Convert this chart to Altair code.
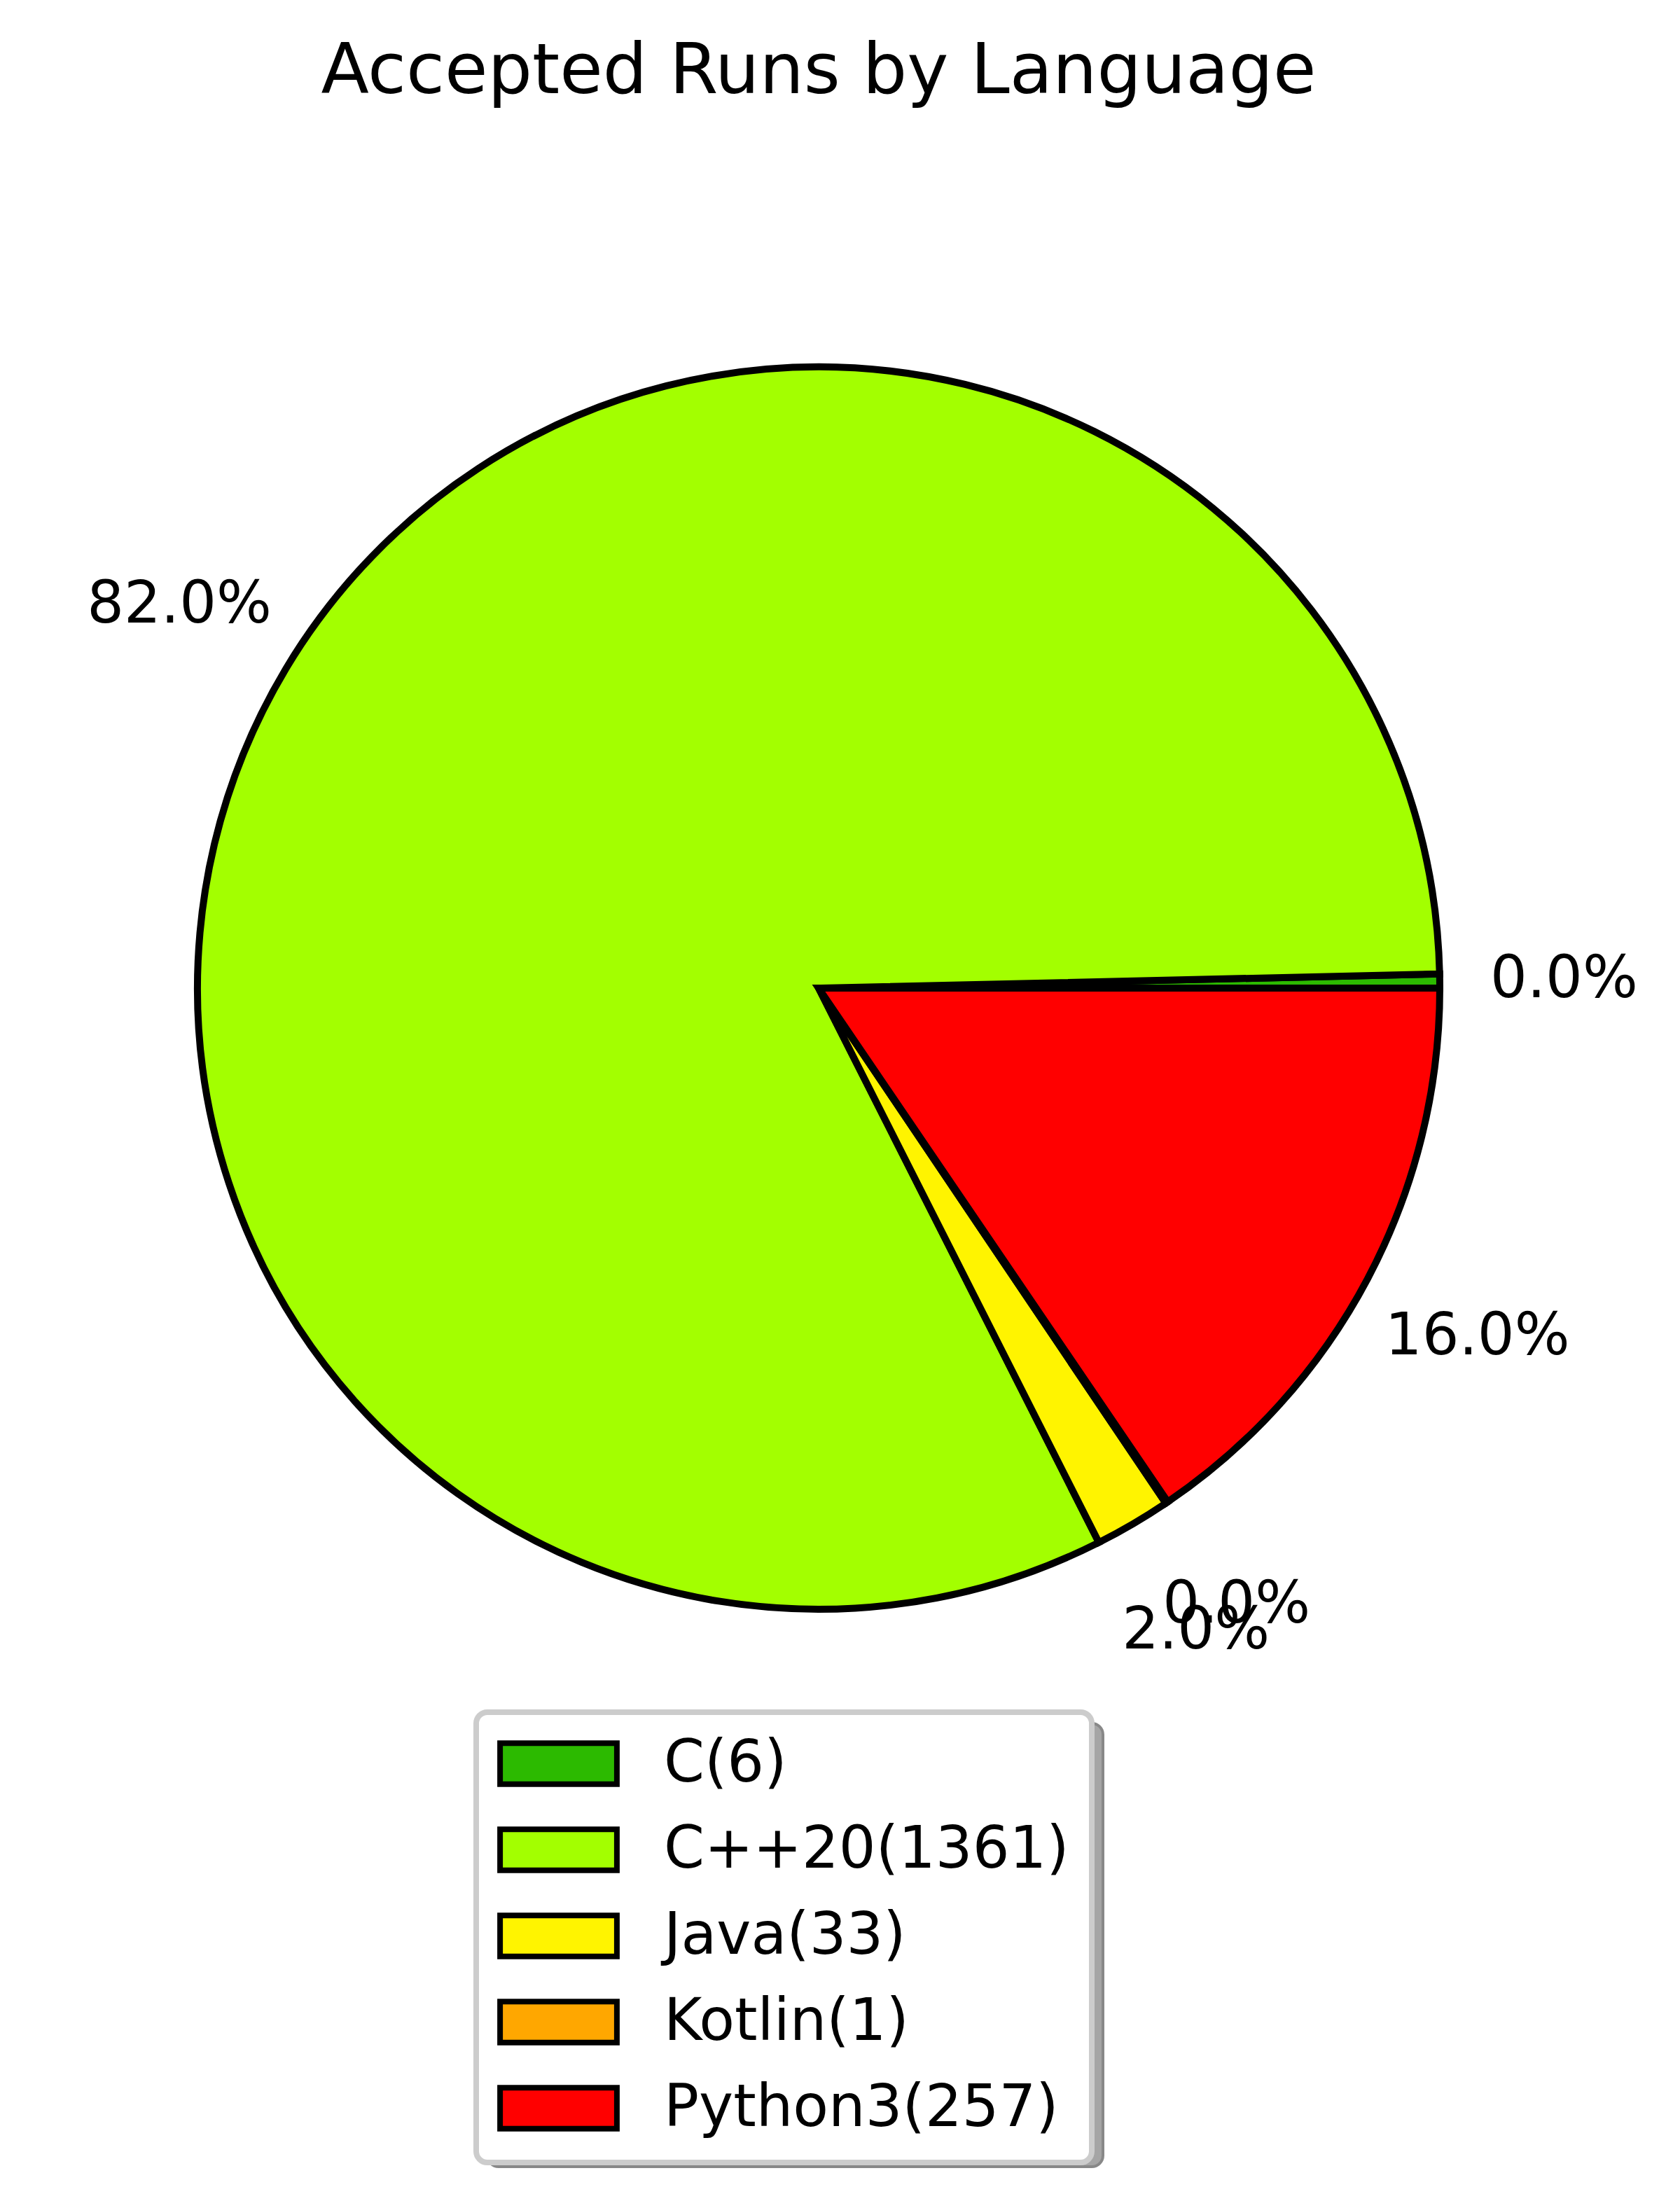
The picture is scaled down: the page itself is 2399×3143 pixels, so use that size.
import math
import altair as alt
import pandas as pd

# ---- data ----
languages = ["C", "C++20", "Java", "Kotlin", "Python3"]
runs = [6, 1361, 33, 1, 257]
pct_labels = ["0.0%", "82.0%", "2.0%", "0.0%", "16.0%"]
colors = ["#2cba00", "#a3ff00", "#fff400", "#ffa700", "#ff0000"]
legend_labels = [f"{l}({r})" for l, r in zip(languages, runs)]

df = pd.DataFrame({
    "language": legend_labels,
    "runs": runs,
    "pct": pct_labels,
    "order": list(range(len(runs))),
})

# ---- layout ----
R = 887
W = 2322
H = 2406
PAD_TOP = 200
FONT = "DejaVu Sans"

theta_scale = alt.Scale(range=[2.5 * math.pi, 0.5 * math.pi])

color = alt.Color(
    "language:N",
    sort=legend_labels,
    scale=alt.Scale(domain=legend_labels, range=colors),
    legend=alt.Legend(
        title=None,
        orient="none",
        legendX=672,
        legendY=2237,
        direction="vertical",
        symbolType="M-2.78,-0.972H2.78V0.972H-2.78Z",
        symbolSize=3600,
        symbolStrokeColor="black",
        symbolStrokeWidth=8,
        symbolOpacity=1,
        symbolOffset=44,
        labelOffset=109,
        labelFontSize=83,
        labelFont=FONT,
        labelColor="black",
        labelLimit=2000,
        rowPadding=32,
        padding=32,
        fillColor="white",
        strokeColor="#cccccc",
        cornerRadius=16,
    ),
)

base = alt.Chart(df).encode(
    theta=alt.Theta("runs:Q", stack=True, scale=theta_scale),
    order=alt.Order("order:Q", sort="ascending"),
)

pie = base.mark_arc(outerRadius=R, stroke="black", strokeWidth=10).encode(color=color)

labels = base.mark_text(
    radius=1.2 * R,
    fontSize=83,
    font=FONT,
    color="black",
    align="center",
    baseline="middle",
).encode(text="pct:N")

shadow = alt.Chart(pd.DataFrame({"s": [0]})).mark_rect(
    fill="#a5a5a5", stroke="#888888", strokeWidth=4, cornerRadius=16
).encode(
    x=alt.value(688), x2=alt.value(1567), y=alt.value(2253), y2=alt.value(2886)
)

chart = alt.layer(shadow, pie, labels).properties(
    width=W,
    height=H,
    autosize=alt.AutoSizeParams(type="none"),
    padding={"left": 0, "top": PAD_TOP, "right": 2383 - W, "bottom": 3127 - PAD_TOP - H},
    background="white",
    title=alt.TitleParams(
        "Accepted Runs by Language",
        fontSize=100,
        font=FONT,
        fontWeight="normal",
        color="black",
        anchor="middle",
        frame="group",
        baseline="alphabetic",
        offset=-25,
    ),
).configure_view(stroke=None).configure_legend(strokeWidth=8)

chart.save("out.html", embed_options={"renderer": "svg", "actions": False})
